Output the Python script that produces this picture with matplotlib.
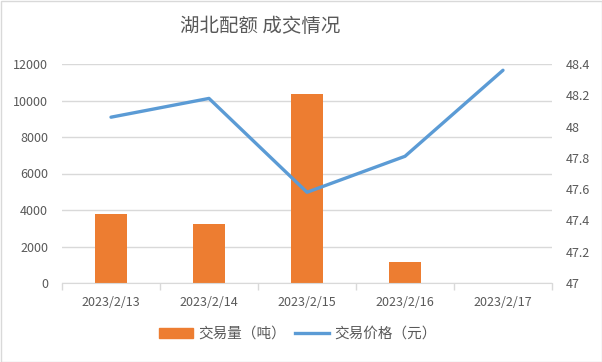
import matplotlib
matplotlib.use("Agg")
import matplotlib.pyplot as plt
import numpy as np
from matplotlib.patches import Rectangle
from matplotlib.lines import Line2D

plt.rcParams['font.family'] = ['Noto Sans CJK SC', 'DejaVu Sans']

categories = ["2023/2/13", "2023/2/14", "2023/2/15", "2023/2/16", "2023/2/17"]
volume = [3780, 3230, 10360, 1150, 0]
price = [48.06, 48.18, 47.58, 47.81, 48.36]
left_ticks = [0, 2000, 4000, 6000, 8000, 10000, 12000]
right_ticks = [47, 47.2, 47.4, 47.6, 47.8, 48, 48.2, 48.4]
right_labels = ["47", "47.2", "47.4", "47.6", "47.8", "48", "48.2", "48.4"]

orange = "#ED7D31"
blue = "#5B9BD5"
txt = "#595959"
grid = "#D9D9D9"

fig = plt.figure(figsize=(6.02, 3.62), dpi=100)
ax = fig.add_axes([62/602, 1-283/362, 490/602, 219/362])
ax2 = ax.twinx()

x = np.arange(len(categories))
ax.bar(x, volume, width=0.32, color=orange, zorder=2)
ax.set_ylim(0, 12000)
ax.set_yticks(left_ticks)
ax.set_yticklabels([str(t) for t in left_ticks])
ax.set_xlim(-0.5, len(categories) - 0.5)
ax.set_xticks(x)
ax.set_xticklabels(categories)
ax.set_xticks(np.arange(-0.5, len(categories) + 0.5, 1), minor=True)
ax.tick_params(axis='x', which='major', length=0, pad=9, labelsize=9, labelcolor=txt)
ax.tick_params(axis='x', which='minor', length=5, color=grid, width=1)
ax.tick_params(axis='y', length=0, pad=10, labelsize=9, labelcolor=txt)
ax.grid(axis='y', color=grid, linewidth=1, zorder=0)
ax.set_axisbelow(True)
for s in ['top', 'right', 'left']:
    ax.spines[s].set_visible(False)
ax.spines['bottom'].set_color(grid)

ax2.plot(x, price, color=blue, linewidth=2.4, solid_capstyle='round', zorder=3)
ax2.set_ylim(47, 48.4)
ax2.set_yticks(right_ticks)
ax2.set_yticklabels(right_labels)
ax2.tick_params(axis='y', length=0, pad=10, labelsize=9, labelcolor=txt)
for s in ['top', 'right', 'left', 'bottom']:
    ax2.spines[s].set_visible(False)

fig.text(260/602, 1-27/362, "湖北配额 成交情况", ha='center', va='center', fontsize=14, color=txt)

handles = [Rectangle((0, 0), 1, 1, color=orange), Line2D([0], [0], color=blue, linewidth=2.4)]
fig.legend(handles, ["交易量（吨）", "交易价格（元）"], loc='center', bbox_to_anchor=(298/602, 1-334/362),
           ncol=2, frameon=False, fontsize=10.5, labelcolor=txt, handlelength=2.3, columnspacing=0.6,
           handletextpad=0.4)

fig.patches.append(Rectangle((0.5/602, 0.5/362), 1-1/602, 1-1/362, transform=fig.transFigure,
                             fill=False, edgecolor=grid, linewidth=1))

fig.savefig("out.png", dpi=100)
